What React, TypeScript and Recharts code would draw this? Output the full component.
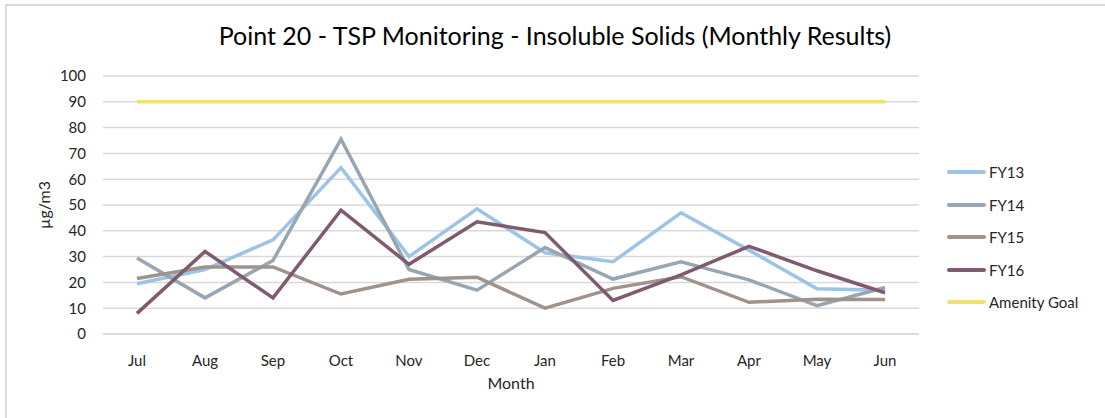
import { CartesianGrid, Line, LineChart, XAxis, YAxis } from "recharts";

const months = ["Jul", "Aug", "Sep", "Oct", "Nov", "Dec", "Jan", "Feb", "Mar", "Apr", "May", "Jun"];
const fy13 = [19.5, 25, 36.5, 64.5, 30, 48.5, 31.5, 28, 47, 32.5, 17.5, 17];
const fy14 = [29.5, 14, 28.5, 75.5, 25, 17, 33.5, 21.3, 28, 21, 11, 18];
const fy15 = [21.5, 26, 26, 15.5, 21.2, 22, 10, 17.7, 22.2, 12.3, 13.5, 13.4];
const fy16 = [8, 32, 14, 48, 27, 43.5, 39.3, 13, 22.9, 34, 24.5, 16];
const amenityGoal = [90, 90, 90, 90, 90, 90, 90, 90, 90, 90, 90, 90];
const yTicks = [0, 10, 20, 30, 40, 50, 60, 70, 80, 90, 100];

const data = months.map((m, i) => ({
  month: m,
  FY13: fy13[i],
  FY14: fy14[i],
  FY15: fy15[i],
  FY16: fy16[i],
  "Amenity Goal": amenityGoal[i],
}));

const series = [
  { key: "FY13", color: "#9DC3E6" },
  { key: "FY14", color: "#98A6B1" },
  { key: "FY15", color: "#A0928C" },
  { key: "FY16", color: "#7E5B70" },
  { key: "Amenity Goal", color: "#F0E272" },
];

const font = "Lato, 'Open Sans', sans-serif";

// legend drawn as plain html next to the plot, like the excel one
function LegendList() {
  return (
    <div style={{ position: "absolute", left: 947, top: 156, fontFamily: font, fontSize: 15, color: "#262626" }}>
      {series.map((s) => (
        <div key={s.key} style={{ display: "flex", alignItems: "center", height: 32.5 }}>
          <span style={{ width: 39, height: 4, borderRadius: 2, background: s.color, marginRight: 3 }} />
          <span>{s.key}</span>
        </div>
      ))}
    </div>
  );
}

export default function App() {
  return (
    <div style={{ position: "absolute", left: 0, top: 0, width: 1105, height: 418, background: "#fff", overflow: "hidden" }}>
      <div
        style={{
          position: "absolute",
          left: 5,
          top: 4,
          width: 1110,
          height: 430,
          border: "2px solid #d9d9d9",
          boxSizing: "border-box",
        }}
      />
      <div
        style={{
          position: "absolute",
          top: 20,
          left: 0,
          width: 1110,
          textAlign: "center",
          fontFamily: font,
          fontSize: 25,
          color: "#000",
        }}
      >
        Point 20 - TSP Monitoring - Insoluble Solids (Monthly Results)
      </div>
      <LineChart
        width={1105}
        height={418}
        data={data}
        margin={{ top: 76, right: 186, bottom: 54, left: 0 }}
        style={{ position: "absolute", left: 0, top: 0 }}
      >
        <CartesianGrid vertical={false} stroke="#d9d9d9" strokeWidth={1.5} />
        <XAxis
          dataKey="month"
          height={30}
          padding={{ left: 34, right: 34 }}
          axisLine={{ stroke: "#d9d9d9", strokeWidth: 1.5 }}
          tickLine={false}
          tickSize={0}
          tickMargin={21}
          tick={{ fontFamily: font, fontSize: 15, fill: "#262626" }}
          label={{ value: "Month", position: "insideBottom", offset: -25, fontFamily: font, fontSize: 16, fill: "#262626" }}
        />
        <YAxis
          width={103}
          domain={[0, 100]}
          ticks={yTicks}
          interval={0}
          axisLine={false}
          tickLine={false}
          tickSize={0}
          tickMargin={17}
          tick={{ fontFamily: font, fontSize: 15, fill: "#262626" }}
          label={{ value: "µg/m3", angle: -90, position: "insideLeft", offset: 44, fontFamily: font, fontSize: 16, fill: "#262626", style: { textAnchor: "middle" } }}
        />
        {series.map((s) => (
          <Line
            key={s.key}
            type="linear"
            dataKey={s.key}
            stroke={s.color}
            strokeWidth={3.5}
            dot={false}
            activeDot={false}
            isAnimationActive={false}
          />
        ))}
      </LineChart>
      <LegendList />
    </div>
  );
}
